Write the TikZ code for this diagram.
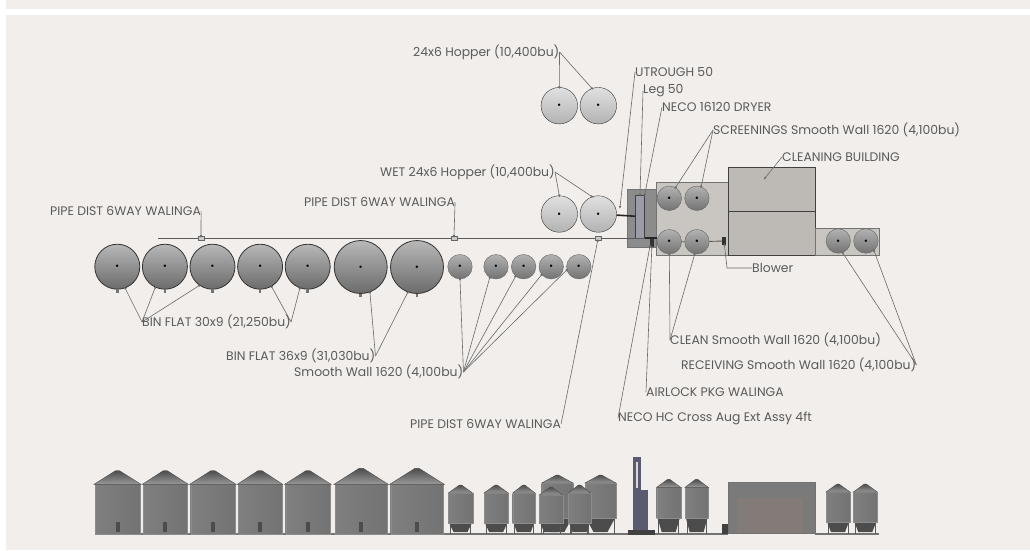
\documentclass[tikz,border=0pt]{standalone}
\usepackage{fontspec}
\setmainfont{Poppins}
\usetikzlibrary{calc,shapes,arrows,arrows.meta}

\definecolor{panelbg}{HTML}{F1EEEB}
\definecolor{labelgray}{HTML}{5A5A5A}
\definecolor{leadergray}{HTML}{6A6A6A}
\definecolor{yardgray}{HTML}{C9C6C2}
\definecolor{bldggray}{HTML}{BDB9B5}
\definecolor{legblue}{HTML}{5A5A70}
\definecolor{shedgray}{HTML}{827B78}

\newcommand{\flatsilo}[5]{
  \draw[silowall] (#1,#3) rectangle (#2,#5);
  \draw[siloroof] (#1-1,#3) -- ({(#1+#2)/2-2},#4) -- ({(#1+#2)/2+2},#4) -- (#2+1,#3) -- cycle;
  \fill[black!70] ({(#1+#2)/2-2},#5-12) rectangle ({(#1+#2)/2+2},#5-2);
}
\newcommand{\hopsilo}[5]{
  \draw[silolegs] (#1+2,#4) -- (#1+2,#5) (#2-2,#4) -- (#2-2,#5);
  \fill[black!70] (#1+1,#4) -- (#2-1,#4) -- ({(#1+#2)/2+7},#5-2) -- ({(#1+#2)/2-7},#5-2) -- cycle;
  \draw[silowall] (#1,#3+8) rectangle (#2,#4);
  \draw[siloroof] (#1,#3+8) -- ({(#1+#2)/2-1},#3) -- ({(#1+#2)/2+1},#3) -- (#2,#3+8) -- cycle;
}

\begin{document}
\begin{tikzpicture}[x=1pt,y=-1pt]

  \tikzstyle{binflat}=[draw=black!80,circle,thick,top color=black!28,bottom color=black!58,minimum size=45pt,inner sep=0pt,node distance=47.6pt,label=center:{\tiny$\bullet$},label={[inner sep=0pt,black!55]below:\rule{2.5pt}{3pt}}]
  \tikzstyle{binbig}=[binflat,minimum size=53pt,node distance=56.3pt]
  \tikzstyle{binsmall}=[draw=black!60,circle,top color=black!30,bottom color=black!55,minimum size=24.5pt,inner sep=0pt,node distance=27.6pt,label=center:{\tiny$\bullet$}]
  \tikzstyle{binhopper}=[draw=black!80,circle,top color=black!12,bottom color=black!30,minimum size=36.5pt,inner sep=0pt,node distance=39pt,label=center:{\tiny$\bullet$}]

  \tikzstyle{areanode}=[draw=black!55,rectangle,fill=yardgray,inner sep=0pt]
  \tikzstyle{bldgnode}=[draw=black!75,rectangle,thick,fill=bldggray,inner sep=0pt,minimum width=87pt,minimum height=44pt]
  \tikzstyle{distnode}=[draw=black!60,rectangle,fill=black!20,minimum width=6pt,minimum height=4pt,inner sep=0pt]
  \tikzstyle{darknode}=[rectangle,fill=black!80,minimum width=4pt,minimum height=8pt,inner sep=0pt]

  \tikzstyle{binlabel}=[anchor=west,inner sep=0pt,text=labelgray,font=\fontsize{12.4}{14}\selectfont]
  \tikzstyle{pointer}=[draw=leadergray,line width=0.6pt,->,>={Latex[length=3pt,width=2.5pt]},shorten >=-2pt]
  \tikzstyle{pipeline}=[draw=black!65,line width=0.9pt]
  \tikzstyle{spout}=[draw=black!85,line width=1.6pt]

  \tikzstyle{silowall}=[draw=black!45,left color=black!50,middle color=black!70,right color=black!55]
  \tikzstyle{siloroof}=[draw=black!70,top color=black!70,bottom color=black!40]
  \tikzstyle{silolegs}=[draw=black!65,line width=1pt]

  \useasboundingbox (0,0) rectangle (1030,550);
  \fill[panelbg] (6,0) rectangle (1030,9);
  \fill[panelbg] (6,15) rectangle (1030,550);

  % plan areas
  \node[areanode,fill=black!45,minimum width=29.5pt,minimum height=58pt] (dryerbox) at (641.5,218.3) {};
  \node[areanode,minimum width=72pt,minimum height=73.3pt] (yard) at (692,218.7) {};
  \node[bldgnode] (bldgtop) at (771.5,189.5) {};
  \node[bldgnode] (bldgbot) at (771.5,233.5) {};
  \node[areanode,minimum width=64.3pt,minimum height=27.3pt] (recvarea) at (847.2,241.7) {};
  \node[rectangle,draw=black!75,fill=legblue!60,minimum width=9pt,minimum height=43pt,inner sep=0pt] (leg) at (640,216.5) {};

  % bins
  \node[binflat] (flat1) at (117.3,266.7) {};
  \node[binflat] (flat2) [right of=flat1] {};
  \node[binflat] (flat3) [right of=flat2] {};
  \node[binflat] (flat4) [right of=flat3] {};
  \node[binflat] (flat5) [right of=flat4] {};
  \node[binbig] (big1) at (360.7,267) {};
  \node[binbig] (big2) [right of=big1] {};

  \node[binsmall] (wall1) at (460,266.7) {};
  \node[binsmall] (wall2) at (496,266.7) {};
  \node[binsmall] (wall3) [right of=wall2] {};
  \node[binsmall] (wall4) [right of=wall3] {};
  \node[binsmall] (wall5) [right of=wall4] {};

  \node[binhopper] (hop1) at (559.3,105.7) {};
  \node[binhopper] (hop2) [right of=hop1] {};
  \node[binhopper] (wet1) at (559.3,214) {};
  \node[binhopper] (wet2) [right of=wet1] {};

  \node[binsmall] (screen1) at (669.3,198.3) {};
  \node[binsmall] (screen2) [right of=screen1] {};
  \node[binsmall] (clean1) at (669.3,241.7) {};
  \node[binsmall] (clean2) [right of=clean1] {};
  \node[binsmall] (recv1) at (838.3,241) {};
  \node[binsmall] (recv2) [right of=recv1] {};

  % pipe run
  \coordinate (pipestart) at (158,238.3);
  \coordinate (pipeend) at (645,238.3);
  \node[distnode] (dist1) at (201,238.3) {};
  \node[distnode] (dist2) at (454,238.3) {};
  \node[distnode] (dist3) at (597.7,238.3) {};
  \node[darknode] (airlock) at (652,243) {};
  \node[darknode] (blower) at (724,241) {};
  \coordinate (legfoot) at (leg.south east);
  \coordinate (airtop) at (airlock.north);
  \draw[pipeline] (pipestart) -- (dist1) -- (dist2) -- (dist3) -- (pipeend);
  \draw[pipeline] (clean1) -- (clean2) -- (blower);
  \draw[spout] (wet2) -- (leg);
  \draw[spout] (legfoot) -- (legfoot -| clean1.west);

  % labels
  \node[binlabel] (lblhop) at (413,52) {24x6 Hopper (10,400bu)};
  \node[binlabel] (lblwet) at (380,172) {WET 24x6 Hopper (10,400bu)};
  \node[binlabel] (lbltrough) at (635,72) {UTROUGH 50};
  \node[binlabel] (lblleg) at (643,91) {Leg 50};
  \node[binlabel] (lbldryer) at (662,107) {NECO 16120 DRYER};
  \node[binlabel] (lblscreen) at (713,130) {SCREENINGS Smooth Wall 1620 (4,100bu)};
  \node[binlabel] (lblbldg) at (782,157) {CLEANING BUILDING};
  \node[binlabel] (lblpipe1) at (50,211) {PIPE DIST 6WAY WALINGA};
  \node[binlabel] (lblpipe2) at (304,202) {PIPE DIST 6WAY WALINGA};
  \node[binlabel] (lblpipe3) at (410,424) {PIPE DIST 6WAY WALINGA};
  \node[binlabel] (lblflat) at (142,322) {BIN FLAT 30x9 (21,250bu)};
  \node[binlabel] (lblbig) at (226,356) {BIN FLAT 36x9 (31,030bu)};
  \node[binlabel] (lblwall) at (294,372) {Smooth Wall 1620 (4,100bu)};
  \node[binlabel] (lblblower) at (752,268) {Blower};
  \node[binlabel] (lblclean) at (670,340) {CLEAN Smooth Wall 1620 (4,100bu)};
  \node[binlabel] (lblrecv) at (681,365) {RECEIVING Smooth Wall 1620 (4,100bu)};
  \node[binlabel] (lblairlock) at (646,392) {AIRLOCK PKG WALINGA};
  \node[binlabel] (lblcross) at (618,418) {NECO HC Cross Aug Ext Assy 4ft};

  % leaders
  \coordinate (troughend) at (620,207);
  \coordinate (bldgmark) at (765,178);
  \coordinate (blowerbend) at (727,268);
  \coordinate (augend) at (650,246);
  \draw[pointer] (lblhop.east) -- (hop1.north);
  \draw[pointer] (lblhop.east) -- (hop2.110);
  \draw[pointer] (lblwet.east) -- (wet1.north);
  \draw[pointer] (lblwet.east) -- (wet2.110);
  \draw[pointer] (lbltrough.west) -- (troughend);
  \draw[pointer] (lblleg.west) -- (leg.north);
  \draw[pointer] (lbldryer.west) -- (leg.north east);
  \draw[pointer] (lblscreen.west) -- (screen1.60);
  \draw[pointer] (lblscreen.west) -- (screen2.70);
  \draw[pointer] (lblbldg.west) -- (bldgmark);
  \draw[pointer] (lblpipe1.east) -- (dist1.north);
  \draw[pointer] (lblpipe2.east) -- (dist2.north);
  \draw[pointer] (lblpipe3.east) -- (dist3.south);
  \draw[pointer] (lblflat.west) -- (flat1.-70);
  \draw[pointer] (lblflat.west) -- (flat2.-115);
  \draw[pointer] (lblflat.west) -- (flat3.-125);
  \draw[pointer] (lblflat.east) -- (flat4.-60);
  \draw[pointer] (lblflat.east) -- (flat5.-110);
  \draw[pointer] (lblbig.east) -- (big1.-70);
  \draw[pointer] (lblbig.east) -- (big2.-110);
  \draw[pointer] (lblwall.east) -- (wall1.south);
  \draw[pointer] (lblwall.east) -- (wall2.-120);
  \draw[pointer] (lblwall.east) -- (wall3.-130);
  \draw[pointer] (lblwall.east) -- (wall4.-140);
  \draw[pointer] (lblwall.east) -- (wall5.-165);
  \draw[pointer] (lblblower.west) -- (blowerbend) -- (blower);
  \draw[pointer] (lblclean.west) -- (clean1.south);
  \draw[pointer] (lblclean.west) -- (clean2.-100);
  \draw[pointer] (lblrecv.east) -- (recv1.-70);
  \draw[pointer] (lblrecv.east) -- (recv2.-50);
  \draw[pointer] (lblairlock.west) -- (airlock);
  \draw[pointer] (lblcross.west) -- (augend);

  % elevation
  \fill[black!55] (95,533) rectangle (728,535);
  \fill[black!55] (815,533) rectangle (879,535);
  \flatsilo{95}{140}{484.3}{470.7}{534}
  \flatsilo{143.3}{187.3}{484.3}{470.7}{534}
  \flatsilo{190.7}{235}{484.3}{470.7}{534}
  \flatsilo{238.3}{281.7}{484.3}{470.7}{534}
  \flatsilo{285.7}{330}{484.3}{470.7}{534}
  \flatsilo{335}{387.3}{484.3}{468.3}{534}
  \flatsilo{390.7}{443.3}{484.3}{468.3}{534}
  \hopsilo{448.3}{472.7}{485}{523.3}{534}
  \hopsilo{484}{508.3}{485}{523}{534}
  \hopsilo{512.7}{535}{485}{523}{534}
  \hopsilo{541.7}{573}{475}{518}{534}
  \hopsilo{585}{616}{475}{518}{534}
  \hopsilo{539.3}{562.7}{487}{523}{534}
  \hopsilo{568.3}{590.7}{485}{523}{534}
  \fill[legblue] (633.3,456.7) rectangle (640.7,490);
  \fill[black!15] (636,462) rectangle (638,488);
  \fill[legblue] (633.3,490) rectangle (648,530);
  \fill[black!75] (628,530) rectangle (655,535);
  \hopsilo{656.7}{680.7}{479.3}{518.3}{534}
  \hopsilo{685}{708.3}{479.3}{518.3}{534}
  \fill[black!75] (722,524) rectangle (728,534);
  \draw[black!55,thick,fill=black!52] (728.3,482.7) rectangle (815,533.3);
  \fill[shedgray] (737,498) rectangle (803,533);
  \hopsilo{826}{850}{484}{521.7}{534}
  \hopsilo{853.3}{877.3}{484}{521.7}{534}

\end{tikzpicture}
\end{document}
